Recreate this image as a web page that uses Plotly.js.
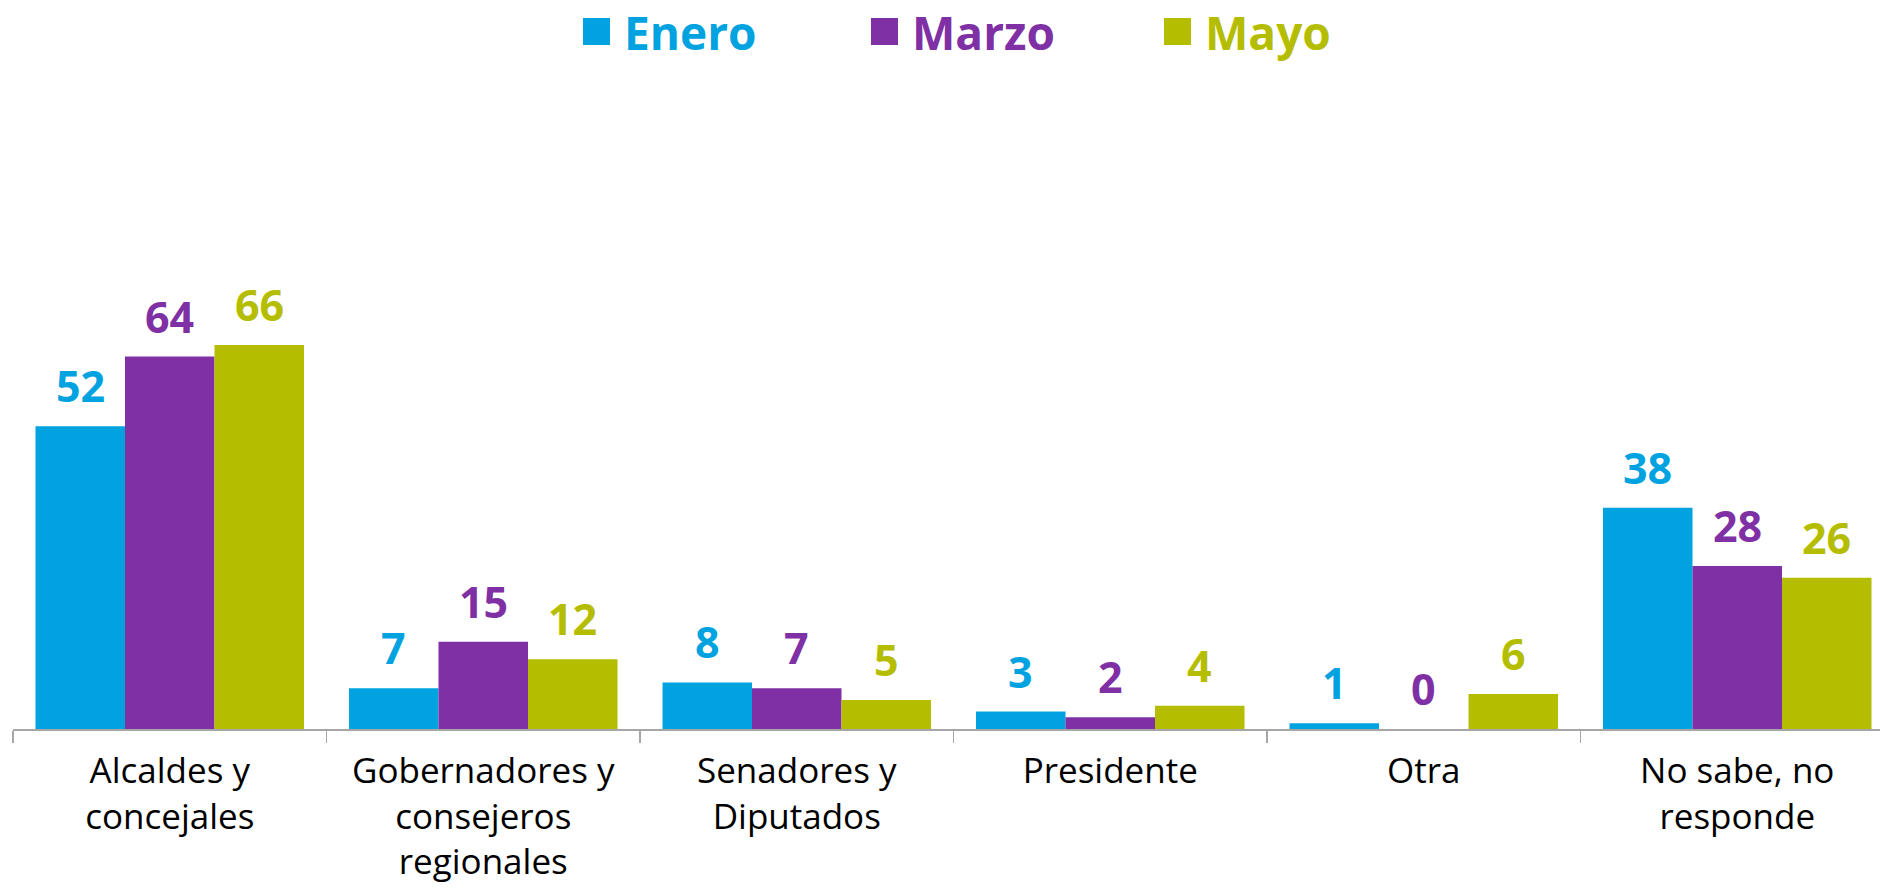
<!DOCTYPE html>
<html>
<head>
<meta charset="utf-8">
<script src="https://cdn.plot.ly/plotly-3.0.1.min.js"></script>
<style>html,body{margin:0;padding:0;background:#fff;}#chart{width:1880px;height:888px;}</style>
</head>
<body>
<div id="chart"></div>
<script>
const categories = ['Alcaldes y concejales', 'Gobernadores y consejeros regionales', 'Senadores y Diputados', 'Presidente', 'Otra', 'No sabe, no responde'];
const tickLabels = ['Alcaldes y<br>concejales', 'Gobernadores y<br>consejeros<br>regionales', 'Senadores y<br>Diputados', 'Presidente', 'Otra', 'No sabe, no<br>responde'];
const seriesNames = ['Enero', 'Marzo', 'Mayo'];
const enero = [52, 7, 8, 3, 1, 38];
const marzo = [64, 15, 7, 2, 0, 28];
const mayo = [66, 12, 5, 4, 6, 26];
const seriesValues = [enero, marzo, mayo];
const colors = ['#00A3E0', '#7F30A5', '#B5BD00'];

const FONT = '"Open Sans", "Noto Sans", sans-serif';
const W = 1880, H = 888;
const plotL = 13, plotR = 1880, plotT = 147, plotB = 729;
const px2x = p => (p - plotL) / (plotR - plotL);
const py2y = p => (plotB - p) / (plotB - plotT);
const barW = 89.5;

const traces = seriesNames.map((name, i) => ({
  type: 'bar',
  name: name,
  x: categories,
  y: seriesValues[i],
  marker: {color: colors[i], line: {width: 0}},
  hoverinfo: 'none',
  showlegend: false
}));

const annotations = [];
seriesValues.forEach((vals, i) => {
  vals.forEach((v, j) => {
    annotations.push({
      x: categories[j], y: v, xref: 'x', yref: 'y',
      xshift: (i - 1) * barW, yshift: 9,
      yanchor: 'bottom', xanchor: 'center',
      text: '<b>' + v + '</b>', showarrow: false,
      font: {family: FONT, size: 43, color: colors[i]}
    });
  });
});

// Custom legend
const legSquareLeft = [583, 871, 1164];
const legTextLeft = [622, 910, 1203];
const shapes = [];
seriesNames.forEach((name, i) => {
  shapes.push({
    type: 'rect', xref: 'paper', yref: 'paper',
    x0: px2x(legSquareLeft[i]), x1: px2x(legSquareLeft[i] + 27),
    y0: py2y(45), y1: py2y(18),
    fillcolor: colors[i], line: {width: 0}
  });
  annotations.push({
    xref: 'paper', yref: 'paper',
    x: px2x(legTextLeft[i]), y: py2y(32),
    xanchor: 'left', yanchor: 'middle',
    text: '<b>' + name + '</b>', showarrow: false,
    font: {family: FONT, size: 46, color: colors[i]}
  });
});

const layout = {
  width: W, height: H,
  margin: {l: plotL, r: W - plotR, t: plotT, b: H - plotB, pad: 0},
  paper_bgcolor: '#ffffff', plot_bgcolor: '#ffffff',
  barmode: 'group', bargap: 0.1435, bargroupgap: 0,
  showlegend: false,
  xaxis: {
    type: 'category',
    range: [-0.5, 5.5 - 14 / 313.5],
    tickvals: categories, ticktext: tickLabels,
    showline: true, linecolor: '#A6A6A6', linewidth: 2,
    ticks: 'outside', tickson: 'boundaries', ticklen: 12, tickcolor: '#A6A6A6', tickwidth: 1.5,
    ticklabelstandoff: 10,
    tickfont: {family: FONT, size: 35, color: '#000000'},
    automargin: false, showgrid: false, zeroline: false, fixedrange: true
  },
  yaxis: {
    range: [0, 100], visible: false, showgrid: false, zeroline: false, fixedrange: true
  },
  shapes: shapes,
  annotations: annotations,
  font: {family: FONT}
};

Plotly.newPlot('chart', traces, layout, {displayModeBar: false, staticPlot: true});
</script>
</body>
</html>
